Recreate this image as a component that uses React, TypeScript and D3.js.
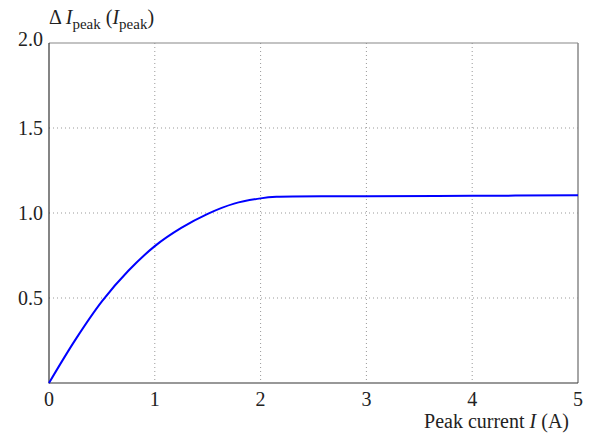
import React from "react";
import * as d3 from "d3";

const currentI = [0, 0.25, 0.5, 0.75, 1.0, 1.25, 1.5, 1.75, 2.0, 2.15, 3, 4, 5];
const deltaPeak = [0, 0.255, 0.48, 0.66, 0.805, 0.912, 0.995, 1.055, 1.086, 1.095, 1.098, 1.101, 1.104];
const xTicks = [0, 1, 2, 3, 4, 5];
const yTicks = [0.5, 1.0, 1.5, 2.0];

const W = 591, H = 437;
const left = 49, right = 578, top = 43, bottom = 383;
const font = "'Liberation Serif', 'Times New Roman', serif";

export default function App() {
  const x = d3.scaleLinear().domain([0, 5]).range([left, right]);
  const y = d3.scaleLinear().domain([0, 2]).range([bottom, top]);
  const data = currentI.map((v, i) => [v, deltaPeak[i]] as [number, number]);
  const line = d3.line<[number, number]>().x(d => x(d[0])).y(d => y(d[1])).curve(d3.curveCatmullRom.alpha(0.5));
  return (
    <svg width={W} height={H} style={{ position: "absolute", left: 0, top: 0, background: "#fff", fontFamily: font }}>
      {xTicks.filter(t => t > 0 && t < 5).map(t => (
        <line key={"gx" + t} x1={x(t)} x2={x(t)} y1={top} y2={bottom} stroke="#999" strokeWidth={1} strokeDasharray="1,3" />
      ))}
      {yTicks.filter(t => t < 2).map(t => (
        <line key={"gy" + t} x1={left} x2={right} y1={y(t)} y2={y(t)} stroke="#999" strokeWidth={1} strokeDasharray="1,3" />
      ))}
      <line x1={left} x2={right} y1={top} y2={top} stroke="#888" strokeWidth={1.2} />
      <line x1={right} x2={right} y1={top} y2={bottom} stroke="#888" strokeWidth={1.5} />
      <line x1={left} x2={left} y1={top} y2={bottom + 0.5} stroke="#333" strokeWidth={1.2} />
      <line x1={left} x2={right} y1={bottom} y2={bottom} stroke="#333" strokeWidth={1.2} />
      <path d={line(data) || ""} fill="none" stroke="#0000ff" strokeWidth={2} />
      {xTicks.map(t => (
        <text key={"xt" + t} x={x(t)} y={406} textAnchor="middle" fontSize={20} fill="#222" fontFamily={font}>{t}</text>
      ))}
      {yTicks.map(t => (
        <text key={"yt" + t} x={43} y={y(t) + (t === 2 ? 3 : 6.5)} textAnchor="end" fontSize={20} fill="#222" fontFamily={font}>{t.toFixed(1)}</text>
      ))}
      <text x={569} y={428} textAnchor="end" fontSize={20} fill="#222" fontFamily={font}>
        Peak current <tspan fontStyle="italic">I</tspan> (A)
      </text>
      <text x={49} y={24} fontSize={20} fill="#222" fontFamily={font}>
        Δ <tspan fontStyle="italic">I</tspan>
        <tspan fontSize={15} dy={5}>peak</tspan>
        <tspan dy={-5}> (</tspan>
        <tspan fontStyle="italic">I</tspan>
        <tspan fontSize={15} dy={5}>peak</tspan>
        <tspan dy={-5}>)</tspan>
      </text>
    </svg>
  );
}
